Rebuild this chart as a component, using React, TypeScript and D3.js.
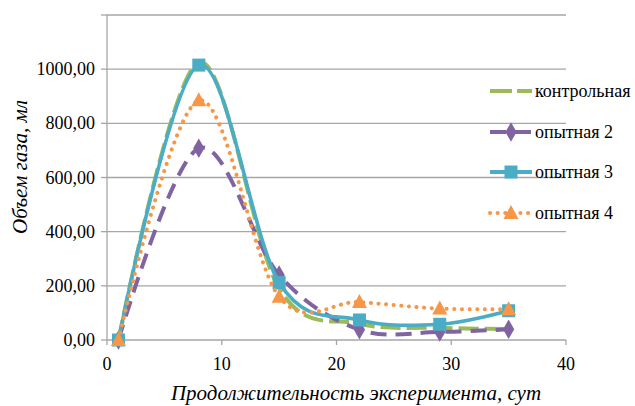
import * as d3 from "d3";

const days = [1, 8, 15, 22, 29, 35];
const control = [0, 1025, 190, 60, 45, 40];
const exp2 = [0, 708, 240, 38, 30, 40];
const exp3 = [0, 1015, 212, 74, 58, 108];
const exp4 = [0, 885, 160, 140, 116, 114];

const xTicks = [0, 10, 20, 30, 40];
const yTicks = [0, 200, 400, 600, 800, 1000, 1200];

const SERIES = [
  { name: "контрольная", values: control, color: "#9bbb59", dash: "20,6", legendDash: "22,5", cap: "butt", marker: "none" },
  { name: "опытная 2", values: exp2, color: "#8064a2", dash: "16,9", legendDash: "16,9", cap: "butt", marker: "diamond" },
  { name: "опытная 3", values: exp3, color: "#4bacc6", dash: undefined, legendDash: undefined, cap: "butt", marker: "square" },
  { name: "опытная 4", values: exp4, color: "#f79646", dash: "0.1,7.5", legendDash: "0.1,7.5", cap: "round", marker: "triangle" },
];

const FONT = '"Times New Roman"';
const GRID = "#a6a6a6";

const left = 107;
const right = 566;
const top = 15;
const bottom = 340;

const x = d3.scaleLinear().domain([0, 40]).range([left, right]);
const y = d3.scaleLinear().domain([0, 1200]).range([bottom, top]);

const line = d3.line<number>()
  .x((_, i) => x(days[i]))
  .y((d) => y(d))
  .curve(d3.curveCardinal.tension(0));

const fmt = (v: number) => d3.format(".2f")(v).replace(".", ",");

const Marker = ({ type, cx, cy, color }: { type: string; cx: number; cy: number; color: string }) => {
  if (type === "diamond") {
    return <path d={d3.symbol(d3.symbolDiamond, 110)() || ""} transform={`translate(${cx},${cy})`} fill={color} />;
  }
  if (type === "square") {
    return <rect x={cx - 6.5} y={cy - 6.5} width={13} height={13} fill={color} />;
  }
  if (type === "triangle") {
    return <path d="M0,-8L7.5,6L-7.5,6Z" transform={`translate(${cx},${cy})`} fill={color} />;
  }
  return null;
};

const legendY = [91, 132, 172, 213];

const App = () => {
  return (
    <div style={{ position: "fixed", left: 0, top: 0 }}>
      <svg width={635} height={406} style={{ display: "block", background: "#fff" }}>
        {/* gridlines + y ticks */}
        {yTicks.map((t) => (
          <g key={t}>
            {t > 0 && <line x1={left} x2={right} y1={y(t)} y2={y(t)} stroke={GRID} strokeWidth={1.3} />}
            <line x1={left - 6} x2={left} y1={y(t)} y2={y(t)} stroke={GRID} strokeWidth={1.3} />
            {t < 1200 && (
              <text x={left - 12} y={y(t) + 6} textAnchor="end" style={{ fontFamily: FONT, fontSize: "18px" }}>
                {fmt(t)}
              </text>
            )}
          </g>
        ))}
        {/* axes */}
        <line x1={left} x2={left} y1={top} y2={bottom} stroke={GRID} strokeWidth={1.3} />
        <line x1={left} x2={right} y1={bottom} y2={bottom} stroke={GRID} strokeWidth={1.3} />
        {xTicks.map((t) => (
          <g key={t}>
            <line x1={x(t)} x2={x(t)} y1={bottom} y2={bottom + 5} stroke={GRID} strokeWidth={1.3} />
            <text x={x(t)} y={bottom + 30} textAnchor="middle" style={{ fontFamily: FONT, fontSize: "18px" }}>
              {t}
            </text>
          </g>
        ))}
        {/* titles */}
        <text x={356} y={400} textAnchor="middle" style={{ fontFamily: FONT, fontStyle: "italic", fontSize: "21px" }}>
          Продолжительность эксперимента, сут
        </text>
        <text transform="translate(27,167) rotate(-90)" textAnchor="middle" style={{ fontFamily: FONT, fontStyle: "italic", fontSize: "21px" }}>
          Объем газа, мл
        </text>
        {/* series */}
        {SERIES.map((s) => (
          <g key={s.name}>
            <path
              d={line(s.values) || ""}
              fill="none"
              stroke={s.color}
              strokeWidth={s.marker === "square" ? 3.6 : 4}
              strokeLinecap={s.cap as any}
              strokeDasharray={s.dash}
            />
            {s.values.map((v, i) => (
              <Marker key={i} type={s.marker} cx={x(days[i])} cy={y(v)} color={s.color} />
            ))}
          </g>
        ))}
        {/* legend */}
        {SERIES.map((s, i) => (
          <g key={s.name} transform={`translate(0,${legendY[i]})`}>
            <line x1={490} x2={532} y1={0} y2={0} stroke={s.color} strokeWidth={4} strokeLinecap={s.cap as any} strokeDasharray={s.legendDash} />
            <Marker type={s.marker} cx={511} cy={0} color={s.color} />
            <text x={535} y={6} style={{ fontFamily: FONT, fontSize: "18px" }}>
              {s.name}
            </text>
          </g>
        ))}
      </svg>
    </div>
  );
};

export default App;
